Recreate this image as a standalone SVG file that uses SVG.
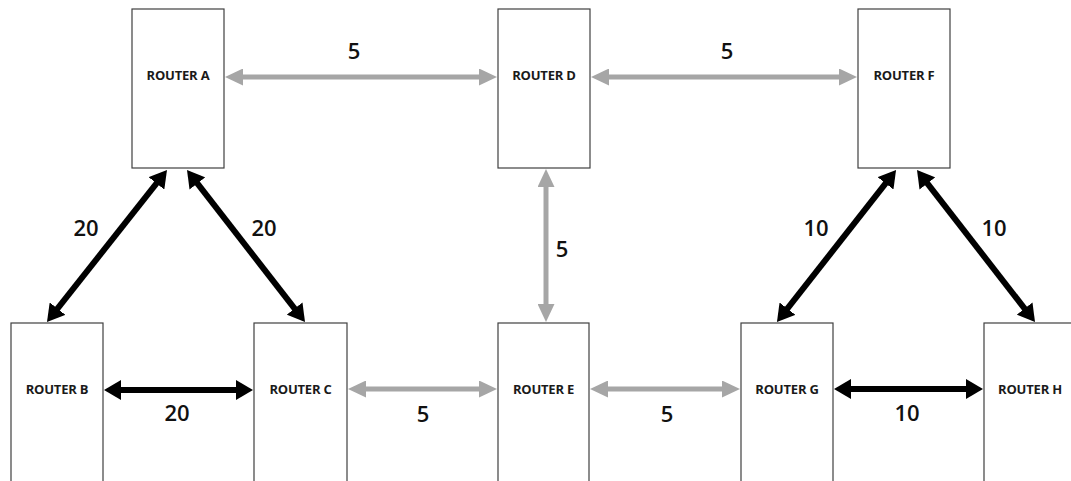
<svg xmlns="http://www.w3.org/2000/svg" width="1071" height="481" viewBox="0 0 1071 481">
<defs>
<style>
.box{fill:#fff;stroke:#404040;stroke-width:1.2}
.lbl{font-family:"Open Sans","Liberation Sans",sans-serif;font-weight:700;font-size:13px;fill:#1a1a1a;text-anchor:middle;letter-spacing:-0.2px}
.num{font-family:"Open Sans","Liberation Sans",sans-serif;font-weight:600;font-size:22px;fill:#111;text-anchor:middle}
.g{stroke:#a6a6a6;stroke-width:5;fill:none;marker-start:url(#ag);marker-end:url(#ag)}
.k{stroke:#000;stroke-width:6;fill:none;marker-start:url(#ak);marker-end:url(#ak)}
</style>
<marker id="ag" markerUnits="userSpaceOnUse" markerWidth="18" markerHeight="17" refX="2" refY="8.5" orient="auto-start-reverse" viewBox="0 0 18 17">
<path d="M0,0 L18,8.5 L0,17 z" fill="#a6a6a6"/>
</marker>
<marker id="ak" markerUnits="userSpaceOnUse" markerWidth="17" markerHeight="20" refX="2" refY="10" orient="auto-start-reverse" viewBox="0 0 17 20">
<path d="M0,0 L17,10 L0,20 z" fill="#000"/>
</marker>
</defs>
<rect width="1071" height="481" fill="#fff"/>
<g id="connectors">
<line class="g" x1="241" y1="77" x2="481" y2="77"/>
<line class="g" x1="607" y1="77" x2="841" y2="77"/>
<line class="g" x1="546" y1="185" x2="546" y2="306"/>
<line class="g" x1="364" y1="389" x2="481" y2="389"/>
<line class="g" x1="606" y1="389" x2="724" y2="389"/>
<line class="k" x1="119" y1="390" x2="238" y2="390"/>
<line class="k" x1="849" y1="389" x2="968" y2="389"/>
<line class="k" x1="157.7" y1="181.8" x2="56.3" y2="310.2"/>
<line class="k" x1="196.2" y1="181.9" x2="295.8" y2="310.1"/>
<line class="k" x1="886.8" y1="181.8" x2="786.2" y2="310.2"/>
<line class="k" x1="926.2" y1="181.9" x2="1025.8" y2="310.1"/>
<text class="num" x="354" y="59">5</text>
<text class="num" x="727" y="59">5</text>
<text class="num" x="562" y="257">5</text>
<text class="num" x="423" y="422">5</text>
<text class="num" x="667" y="422">5</text>
<text class="num" x="86" y="236">20</text>
<text class="num" x="264" y="236">20</text>
<text class="num" x="177" y="421">20</text>
<text class="num" x="816" y="236">10</text>
<text class="num" x="994" y="236">10</text>
<text class="num" x="907" y="421">10</text>
</g>
<g id="router-a"><rect class="box" x="132" y="9" width="92" height="159"/><text class="lbl" x="178" y="80">ROUTER A</text></g>
<g id="router-d"><rect class="box" x="498" y="9" width="92" height="159"/><text class="lbl" x="544" y="80">ROUTER D</text></g>
<g id="router-f"><rect class="box" x="858" y="9" width="92" height="159"/><text class="lbl" x="904" y="80">ROUTER F</text></g>
<g id="router-b"><rect class="box" x="11" y="323" width="92" height="170"/><text class="lbl" x="57" y="394">ROUTER B</text></g>
<g id="router-c"><rect class="box" x="254" y="323" width="93" height="170"/><text class="lbl" x="300.5" y="394">ROUTER C</text></g>
<g id="router-e"><rect class="box" x="498" y="323" width="91" height="170"/><text class="lbl" x="543.5" y="394">ROUTER E</text></g>
<g id="router-g"><rect class="box" x="741" y="323" width="92" height="170"/><text class="lbl" x="787" y="394">ROUTER G</text></g>
<g id="router-h"><rect class="box" x="984" y="323" width="92" height="170"/><text class="lbl" x="1030" y="394">ROUTER H</text></g>
</svg>
